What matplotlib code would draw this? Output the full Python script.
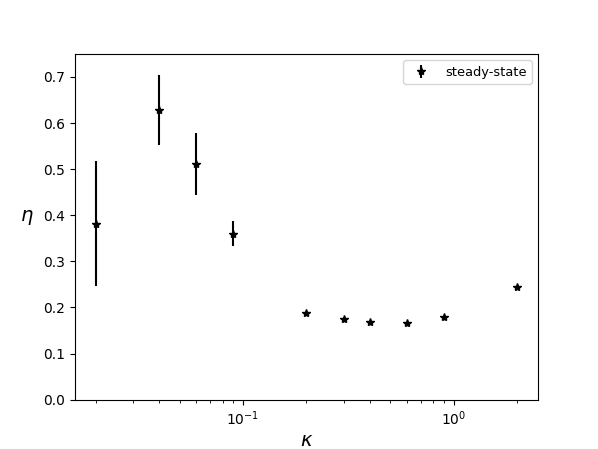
import matplotlib
matplotlib.use("Agg")
import matplotlib.pyplot as plt

kappa = [0.02, 0.04, 0.06, 0.09, 0.2, 0.3, 0.4, 0.6, 0.9, 2.0]
eta = [0.382, 0.628, 0.511, 0.360, 0.187, 0.174, 0.168, 0.167, 0.179, 0.244]
eta_err = [0.135, 0.076, 0.067, 0.027, 0.0, 0.0, 0.0, 0.0, 0.0, 0.0]

fig, ax = plt.subplots(figsize=(5.98, 4.49), dpi=100)
ax.errorbar(kappa, eta, yerr=eta_err, fmt='*', color='black', ecolor='black',
            markersize=6, elinewidth=1.5, label='steady-state')
ax.set_xscale('log')
ax.set_ylim(0, 0.75)
ax.set_xlabel(r'$\kappa$', fontsize=14, labelpad=2)
ax.set_ylabel(r'$\eta$', fontsize=14, rotation=0, labelpad=12)
ax.legend(loc='upper right', fontsize=9.4)
fig.savefig('out.png', dpi=100)
